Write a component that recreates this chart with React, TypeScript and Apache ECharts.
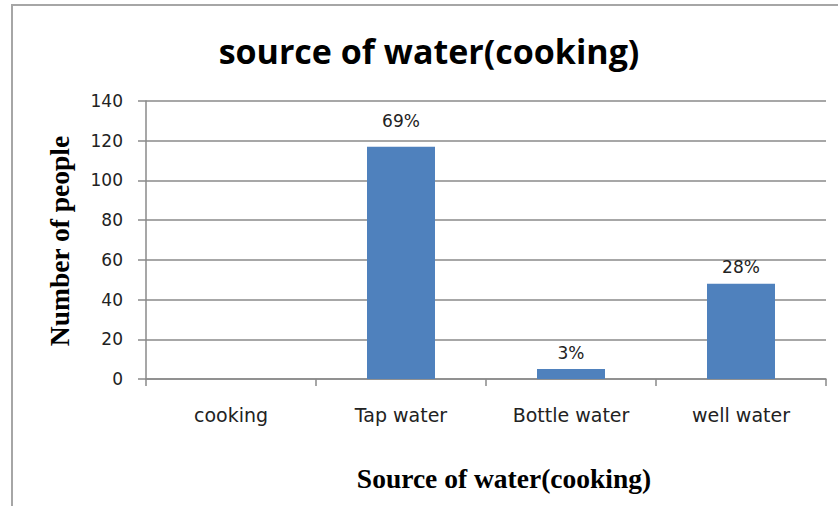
import React, { useEffect, useRef } from "react";
import * as echarts from "echarts";

const categories = ["cooking", "Tap water", "Bottle water", "well water"];
const people = [0, 117, 5, 48];
const percentLabels = ["", "69%", "3%", "28%"];
const yTicks = { min: 0, max: 140, interval: 20 };

const chartTitle = "source of water(cooking)";
const xTitle = "Source of water(cooking)";
const yTitle = "Number of people";

export default function App() {
  const ref = useRef<HTMLDivElement>(null);

  useEffect(() => {
    document.body.style.margin = "0";
    if (!ref.current) return;
    const chart = echarts.init(ref.current, undefined, { renderer: "svg" });
    const gray = "#8a8a8a";
    chart.setOption({
      animation: false,
      backgroundColor: "#ffffff",
      grid: { left: 146, right: 12, top: 101, bottom: 127 },
      xAxis: {
        type: "category",
        data: categories,
        boundaryGap: true,
        axisLine: { show: true, lineStyle: { color: gray, width: 1.5 } },
        axisTick: { show: true, length: 7, alignWithLabel: false, lineStyle: { color: gray, width: 1.5 } },
        axisLabel: {
          margin: 26,
          fontFamily: "DejaVu Sans",
          fontSize: 19,
          color: "#222222",
        },
        splitLine: { show: false },
      },
      yAxis: {
        type: "value",
        min: yTicks.min,
        max: yTicks.max,
        interval: yTicks.interval,
        axisLine: { show: true, lineStyle: { color: gray, width: 1.5 } },
        axisTick: { show: true, length: 8, lineStyle: { color: gray, width: 1.5 } },
        axisLabel: {
          margin: 23,
          fontFamily: "DejaVu Sans",
          fontSize: 17,
          color: "#222222",
        },
        splitLine: { show: true, lineStyle: { color: gray, width: 1.5 } },
      },
      series: [
        {
          type: "bar",
          barWidth: "40%",
          itemStyle: { color: "#4f81bd" },
          data: people.map((v, i) => ({
            value: v,
            label: {
              show: percentLabels[i] !== "",
              position: "top",
              distance: i === 1 ? 17 : 8,
              formatter: percentLabels[i],
              fontFamily: "DejaVu Sans",
              fontSize: 17,
              color: "#222222",
            },
          })),
        },
      ],
      graphic: [
        {
          type: "rect",
          shape: { x: 12, y: 5, width: 1000, height: 1000 },
          style: { fill: "none", stroke: "#a6a6a6", lineWidth: 2 },
          silent: true,
        },
        {
          type: "text",
          x: 429,
          y: 51,
          style: {
            text: chartTitle,
            align: "center",
            verticalAlign: "middle",
            fontFamily: "Open Sans",
            fontWeight: "bold",
            fontSize: 34,
            fill: "#000000",
          },
        },
        {
          type: "text",
          x: 504,
          y: 478,
          style: {
            text: xTitle,
            align: "center",
            verticalAlign: "middle",
            fontFamily: "Liberation Serif",
            fontWeight: "bold",
            fontSize: 27.5,
            fill: "#000000",
          },
        },
        {
          type: "text",
          x: 59,
          y: 241,
          rotation: Math.PI / 2,
          style: {
            text: yTitle,
            align: "center",
            verticalAlign: "middle",
            fontFamily: "Liberation Serif",
            fontWeight: "bold",
            fontSize: 27.5,
            fill: "#000000",
          },
        },
      ],
    });
    return () => chart.dispose();
  }, []);

  return <div ref={ref} style={{ width: 838, height: 506 }} />;
}
